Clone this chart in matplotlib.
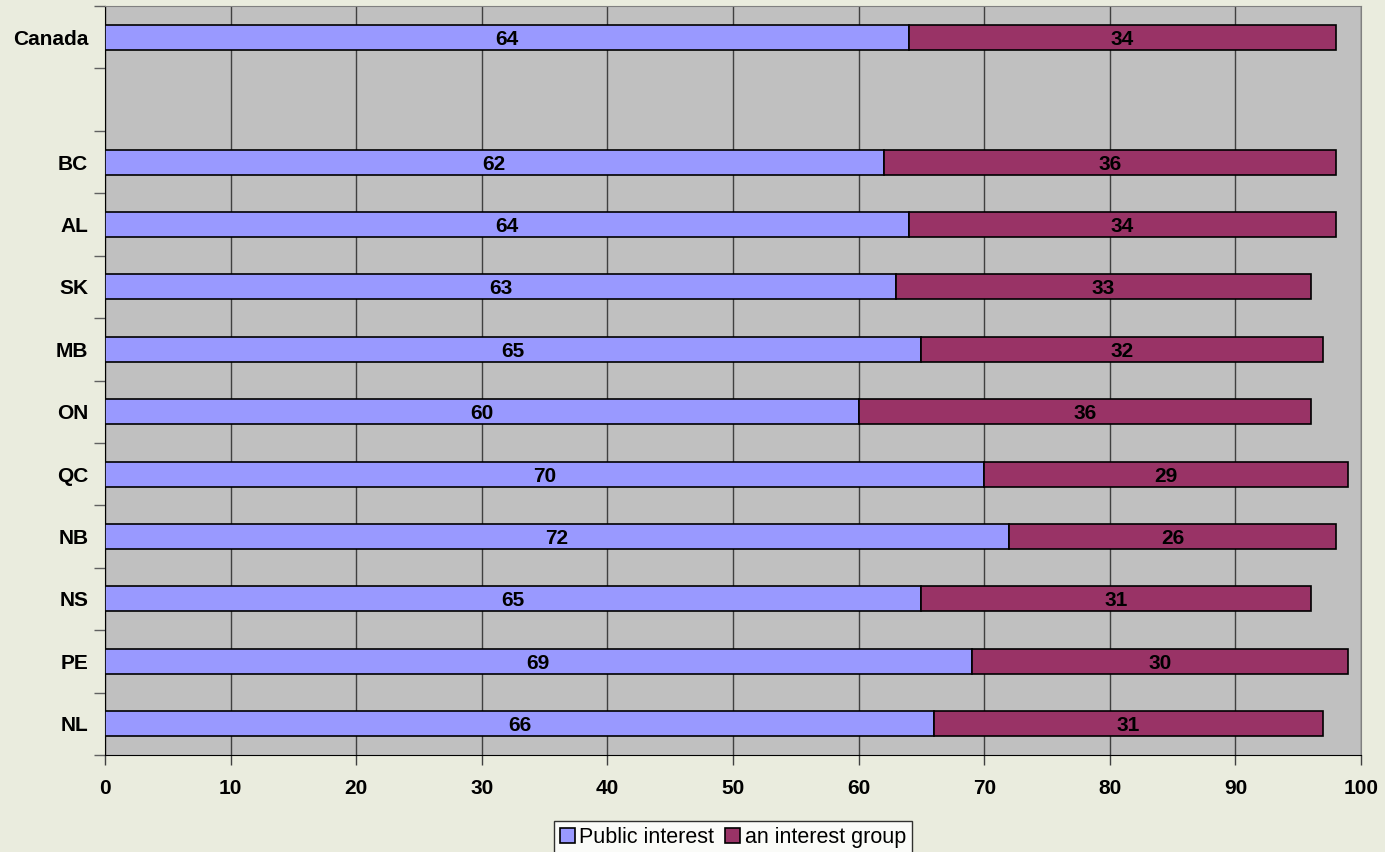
import numpy as np
import matplotlib.pyplot as plt

# data, top to bottom (empty slot between Canada and BC)
regions = ['Canada', '', 'BC', 'AL', 'SK', 'MB', 'ON', 'QC', 'NB', 'NS', 'PE', 'NL']
public_interest = [64, np.nan, 62, 64, 63, 65, 60, 70, 72, 65, 69, 66]
interest_group = [34, np.nan, 36, 34, 33, 32, 36, 29, 26, 31, 30, 31]
x_ticks = [0, 10, 20, 30, 40, 50, 60, 70, 80, 90, 100]

plt.rcParams['font.family'] = ['Liberation Sans', 'DejaVu Sans']

fig = plt.figure(figsize=(13.85, 8.52), dpi=100, facecolor='#EAECDE')
ax = fig.add_axes([105 / 1385, 1 - 755 / 852, (1361 - 105) / 1385, (755 - 6) / 852])
ax.set_facecolor('#C0C0C0')

pos = np.arange(len(regions))
pub = np.array(public_interest, dtype=float)
grp = np.array(interest_group, dtype=float)

b1 = ax.barh(pos, pub, height=0.4, color='#9999FF', edgecolor='black', linewidth=1.2, zorder=3)
b2 = ax.barh(pos, grp, left=pub, height=0.4, color='#993366', edgecolor='black', linewidth=1.2, zorder=3)

# value labels in middle of each segment
for i in range(len(regions)):
    if np.isnan(pub[i]):
        continue
    ax.text(pub[i] / 2, i, f'{int(pub[i])}', ha='center', va='center_baseline',
            fontsize=15, fontweight='bold', zorder=4)
    ax.text(pub[i] + grp[i] / 2, i, f'{int(grp[i])}', ha='center', va='center_baseline',
            fontsize=15, fontweight='bold', zorder=4)

ax.set_xlim(0, 100)
ax.set_ylim(len(regions) - 0.5, -0.5)

# x axis
ax.set_xticks(x_ticks)
ax.set_xticklabels([str(t) for t in x_ticks], fontsize=15, fontweight='bold')
ax.tick_params(axis='x', direction='out', length=7, width=1, color='#404040', pad=10)
ax.xaxis.grid(True, color='#404040', linewidth=1, zorder=1)

# y axis: ticks on boundaries, labels at centres
ax.set_yticks(np.arange(-0.5, len(regions), 1))
ax.set_yticklabels([])
ax.set_yticks(pos, minor=True)
ax.set_yticklabels(regions, minor=True, fontsize=15, fontweight='bold')
ax.tick_params(axis='y', which='major', direction='out', length=8, width=1, color='#606060')
ax.tick_params(axis='y', which='minor', length=0, pad=12)

ax.spines['left'].set_color('black')
ax.spines['bottom'].set_color('black')
ax.spines['top'].set_color('#808080')
ax.spines['right'].set_color('#808080')
ax.set_axisbelow(True)

leg = fig.legend([b1, b2], ['Public interest', 'an interest group'],
                 loc='upper center', bbox_to_anchor=(733 / 1385, 1 - 821 / 852),
                 ncol=2, fontsize=15.5, frameon=True, fancybox=False,
                 edgecolor='black', handlelength=0.7, handleheight=0.7,
                 handletextpad=0.2, columnspacing=0.5, borderpad=0.3, borderaxespad=0)
leg.get_frame().set_linewidth(1)
leg.get_frame().set_facecolor('white')

fig.savefig('out.png', dpi=100, facecolor=fig.get_facecolor())
